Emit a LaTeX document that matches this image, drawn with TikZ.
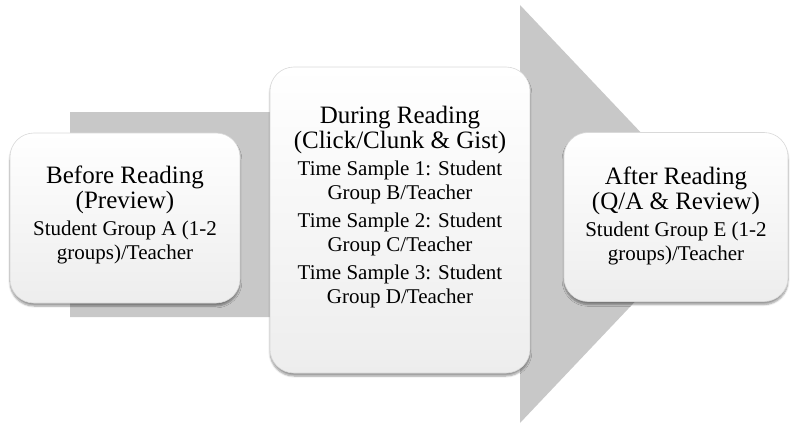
\documentclass[tikz,border=0pt]{standalone}
\usepackage{fontspec}
\setmainfont{Liberation Serif}
\usetikzlibrary{positioning,shadows.blur}
\definecolor{arrowgray}{RGB}{200,200,200}
\tikzset{
    stage box/.style={rounded corners=24pt,top color=white,bottom color=gray!14,
        draw=gray!30,line width=0.6pt,inner sep=0pt,
        blur shadow={shadow xshift=0pt,shadow yshift=-3pt,shadow blur steps=6}},
    title text/.style={align=center,inner sep=0pt,font=\fontsize{25}{24.5}\selectfont},
    body text/.style={align=center,inner sep=0pt,font=\fontsize{21}{24}\selectfont},
}
\begin{document}
\begin{tikzpicture}[x=1pt,y=-1pt]
\useasboundingbox (0,0) rectangle (790,428);

% big arrow behind the stages
\fill [arrowgray] (70,112) -- (520,112) -- (520,5) -- (718,214)
    -- (520,423) -- (520,317) -- (70,317) -- cycle;

% stage boxes
\node [stage box,minimum width=230pt,minimum height=170pt] (before) at (125,218) {};
\node [stage box,minimum width=260pt,minimum height=306pt] (during) at (400,220) {};
\node [stage box,minimum width=224pt,minimum height=169pt] (after) at (676,217) {};

% texts
\node [title text] (beforetitle) at (125,190) {Before Reading\\(Preview)};
\node [body text,below=7pt of beforetitle] (beforebody) {Student Group A (1-2\\groups)/Teacher};

\node [title text] (duringtitle) at (400,130) {During Reading\\(Click/Clunk \& Gist)};
\node [body text,below=7pt of duringtitle] (duringbody)
    {Time Sample 1: Student\\Group B/Teacher\\[4pt]
     Time Sample 2: Student\\Group C/Teacher\\[4pt]
     Time Sample 3: Student\\Group D/Teacher};

\node [title text] (aftertitle) at (676,191) {After Reading\\(Q/A \& Review)};
\node [body text,below=7pt of aftertitle] (afterbody) {Student Group E (1-2\\groups)/Teacher};

\end{tikzpicture}
\end{document}
